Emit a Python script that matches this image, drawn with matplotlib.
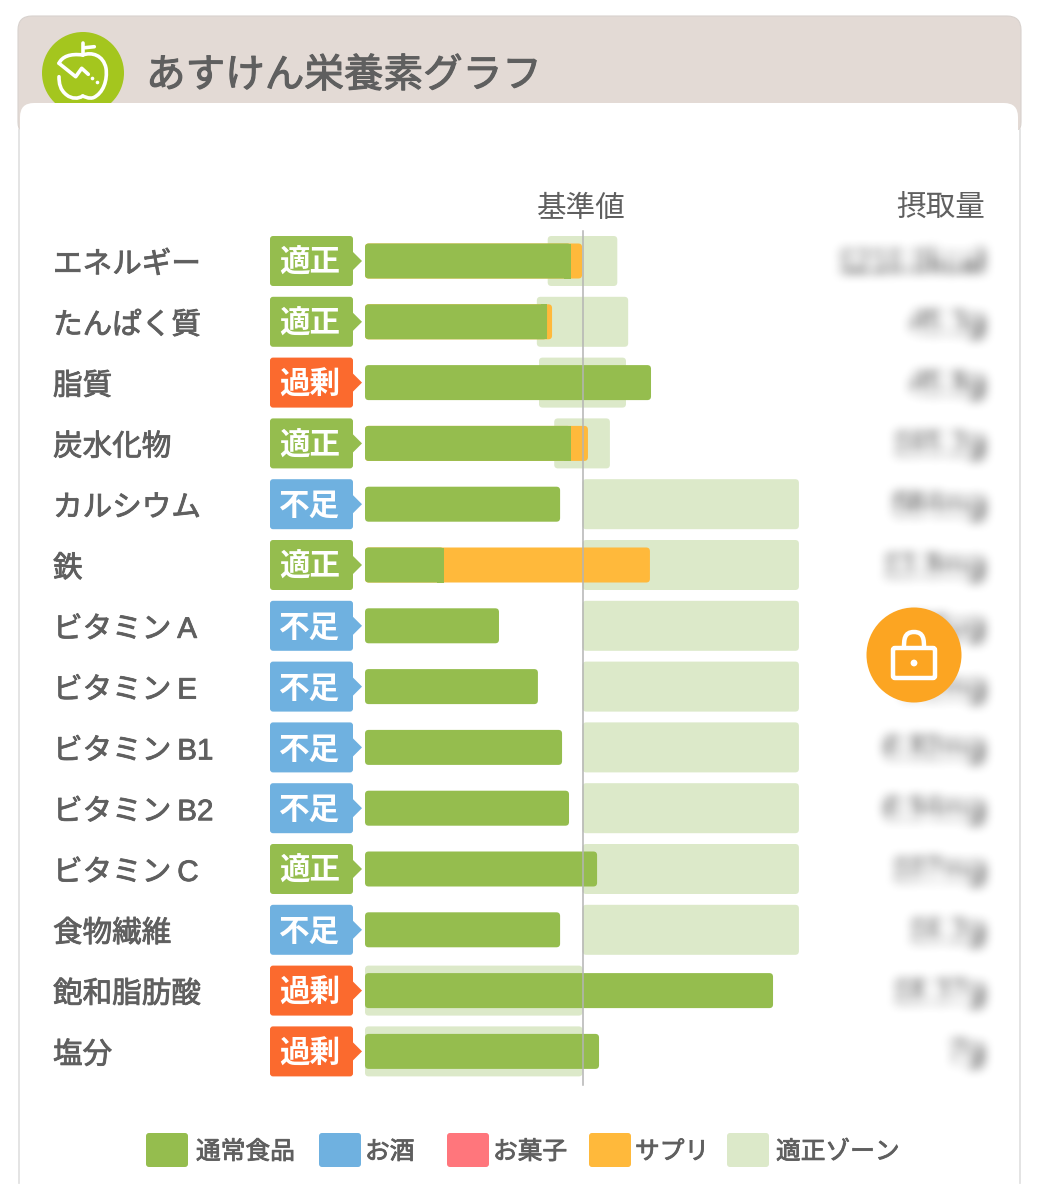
"""
あすけん栄養素グラフ: nutrient intake bars against the reference value.
Bars are in percent of the reference value (100 = 基準値).
"""

import numpy as np
import matplotlib
matplotlib.use('Agg')
import matplotlib.pyplot as plt
import matplotlib.patheffects as pe
from matplotlib.patches import Circle, FancyBboxPatch, Polygon, Rectangle, PathPatch
from matplotlib.path import Path
from matplotlib.transforms import ScaledTranslation

# Latin letters look Helvetica-like in the source, the kana and kanji come from Noto
plt.rcParams['font.family'] = ['Liberation Sans', 'Noto Sans CJK JP', 'DejaVu Sans']

nutrients = ['エネルギー', 'たんぱく質', '脂質', '炭水化物', 'カルシウム', '鉄', 'ビタミン\u2009A',
             'ビタミン\u2009E', 'ビタミン\u2009B1', 'ビタミン\u2009B2', 'ビタミン\u2009C',
             '食物繊維', '飽和脂肪酸', '塩分']
status = ['適正', '適正', '過剰', '適正', '不足', '適正', '不足',
          '不足', '不足', '不足', '適正', '不足', '過剰', '過剰']
food = [94.7, 83.7, 131.5, 94.7, 89.7, 36.3, 61.6, 79.5, 90.6, 93.8, 106.7, 89.7, 187.6, 107.6]
supplement = [5.1, 2.3, 0, 7.8, 0, 94.7, 0, 0, 0, 0, 0, 0, 0, 0]
zone_low = [84, 79, 80, 87, 100, 100, 100, 100, 100, 100, 100, 100, 0, 0]
zone_high = [116, 121, 120, 112.6, 199.5, 199.5, 199.5, 199.5, 199.5, 199.5, 199.5, 199.5, 100, 100]
# the amounts are blurred in the source, these are best guesses
amounts = ['1210.0kcal', '45.3g', '45.8g', '165.2g', '584mg', '13.8mg', '496μg',
           '5.2mg', '0.82mg', '0.94mg', '107mg', '16.2g', '18.37g', '7g']
legend_labels = ['通常食品', 'お酒', 'お菓子', 'サプリ', '適正ゾーン']
legend_colors = ['#95bd4e', '#6fb1e0', '#ff767c', '#ffb93b', '#dce9c9']
legend_x = [146, 319, 447, 589, 727]
legend_text_x = [196, 365, 493, 635, 776]

GREEN, ORANGE, ZONE = '#95bd4e', '#ffb93b', '#dce9c9'
TEXT = '#5f5f5f'
BADGE = {'適正': '#95bd4e', '不足': '#6fb1e0', '過剰': '#fb6a2e'}

W, H = 1039, 1200
ROW0, ROW_STEP = 261, 60.8
X0, PX_PER_PCT = 365, 2.175


def blur(image, dpi, radius=5, pad=24):
    # repeated box blur, close enough to a gaussian
    img = np.pad(image, ((pad, pad), (pad, pad), (0, 0)))
    kernel = np.ones(2 * radius + 1) / (2 * radius + 1)
    for _ in range(3):
        for axis in (0, 1):
            img = np.apply_along_axis(lambda v: np.convolve(v, kernel, mode='same'), axis, img)
    return img, -pad, -pad


def thicker(width=0.6, color=TEXT):
    # the source font is a medium weight, Noto here only has regular and bold
    return [pe.withStroke(linewidth=width, foreground=color)]


fig = plt.figure(figsize=(W / 100, H / 100), dpi=100, facecolor='white')

# background layer in pixel coordinates
bg = fig.add_axes([0, 0, 1, 1], zorder=1)
bg.set_xlim(0, W)
bg.set_ylim(H, 0)
bg.axis('off')

bg.add_patch(FancyBboxPatch((18, 16), 1003, 120, boxstyle='round,pad=0,rounding_size=14',
                            fc='#e3dad5', ec='#d8d2ce', lw=0.8, zorder=1))
bg.add_patch(Circle((83, 73), 41, fc='#a4c61e', ec='none', zorder=2))

# apple icon
apple_right = Path([(82.7, 55), (91.7, 51.7), (103.3, 55), (106, 68.3), (107.7, 80), (103.3, 93.3),
                    (93.3, 97.7), (88.3, 99), (85, 96.7), (82.7, 96)],
                   [Path.MOVETO] + [Path.CURVE4] * 9)
apple_left = Path([(82.7, 96), (78.3, 99), (71.7, 99), (66.7, 95), (60, 90), (59, 83.3), (59, 76.7)],
                  [Path.MOVETO] + [Path.CURVE4] * 6)
apple_top = Path([(59, 63.3), (62, 56.7), (70, 53.3), (82.7, 55)], [Path.MOVETO] + [Path.CURVE4] * 3)
for part in (apple_right, apple_left, apple_top):
    bg.add_patch(PathPatch(part, fc='none', ec='white', lw=2.6, capstyle='round', zorder=3))
bg.plot([82.7, 82.7], [43.3, 55], color='white', lw=2.6, solid_capstyle='round', zorder=3)
bg.plot([85, 94.3], [47.7, 46.7], color='white', lw=2.6, solid_capstyle='round', zorder=3)
bg.plot([59, 75.7, 81.7, 88.3], [63.3, 76.7, 68.3, 74.3], color='white', lw=2.6,
        solid_capstyle='round', solid_joinstyle='round', zorder=4)
bg.plot([92.3, 97], [78.3, 82.3], ls='none', marker='o', ms=2.6, mew=0, color='white', zorder=4)

title = bg.text(146, 76, 'あすけん栄養素グラフ', fontsize=28.5, color=TEXT,
                ha='left', va='center', zorder=4)
title.set_path_effects(thicker(0.8))

# white card
bg.add_patch(FancyBboxPatch((20, 103), 998, 200, boxstyle='round,pad=0,rounding_size=14',
                            fc='white', ec='none', zorder=5))
bg.add_patch(Rectangle((18, 130), 1003, 1060, fc='white', ec='none', zorder=5))
for x in (19, 1020):
    bg.plot([x, x], [130, 1183], color='#e2e2e2', lw=1.3, zorder=5)

bg.text(581, 209, '基準値', fontsize=21.3, color=TEXT, ha='center', va='center', zorder=7)
bg.text(985, 209, '摂取量', fontsize=21.3, color=TEXT, ha='right', va='center', zorder=7)

# status badges and blurred amounts
for i, (st, amount) in enumerate(zip(status, amounts)):
    y = ROW0 + i * ROW_STEP
    color = BADGE[st]
    bg.add_patch(FancyBboxPatch((270, y - 25), 83, 50, boxstyle='round,pad=0,rounding_size=3',
                                fc=color, ec='none', zorder=7))
    bg.add_patch(Polygon([(352, y - 10), (362, y), (352, y + 10)], fc=color, ec='none', zorder=7))
    bg.text(309.5, y + 3, st, fontsize=22, fontweight='bold', color='white',
            ha='center', va='center', zorder=8)
    t = bg.text(985, y + 2, amount, fontsize=21, fontweight='bold', color='#444444',
                ha='right', va='center', zorder=8)
    t.set_agg_filter(blur)

# legend
for x, tx, label, color in zip(legend_x, legend_text_x, legend_labels, legend_colors):
    bg.add_patch(FancyBboxPatch((x, 1133), 42, 34, boxstyle='round,pad=0,rounding_size=3',
                                fc=color, ec='none', zorder=7))
    t = bg.text(tx, 1152, label, fontsize=17.8, color=TEXT, ha='left', va='center', zorder=8)
    t.set_path_effects(thicker(0.6))

# lock button, above the blurred amounts
bg.add_patch(Circle((914, 655), 47.5, fc='#fca522', ec='none', zorder=10))
bg.add_patch(FancyBboxPatch((893, 648), 42, 30, boxstyle='round,pad=0,rounding_size=2',
                            fc='none', ec='white', lw=3.2, zorder=11))
shackle = Path([(904, 648), (904, 640), (904, 632), (914, 632), (924, 632), (924, 640), (924, 648)],
               [Path.MOVETO] + [Path.CURVE4] * 6)
bg.add_patch(PathPatch(shackle, fc='none', ec='white', lw=3.2, zorder=11))
bg.add_patch(Circle((914, 663), 3.4, fc='white', ec='none', zorder=11))

# chart axes: x in percent of the reference value, y is the row number
ax = fig.add_axes([X0 / W, 1 - (ROW0 + 13.5 * ROW_STEP) / H,
                   200 * PX_PER_PCT / W, 14 * ROW_STEP / H], zorder=2)
ax.patch.set_alpha(0)
ax.set_xlim(0, 200)
ax.set_ylim(13.5, -0.5)
for side in ax.spines.values():
    side.set_visible(False)
ax.set_xticks([])
ax.set_yticks(range(len(nutrients)))
ax.set_yticklabels(nutrients, fontsize=21.3, color=TEXT, ha='left')
ax.tick_params(axis='y', length=0, pad=(X0 - 53) * 0.72)
nudge = ScaledTranslation(0, -1 / 100, fig.dpi_scale_trans)
for label in ax.get_yticklabels():
    label.set_path_effects(thicker(0.6))
    label.set_transform(label.get_transform() + nudge)

ASPECT = PX_PER_PCT / ROW_STEP


def rbar(x0, x1, row, height_px, color, z):
    h = height_px / ROW_STEP
    box = FancyBboxPatch((x0, row - h / 2), x1 - x0, h,
                         boxstyle='round,pad=0,rounding_size=1.7',
                         mutation_aspect=ASPECT, fc=color, ec='none', zorder=z)
    ax.add_patch(box)


for i in range(len(nutrients)):
    rbar(zone_low[i], zone_high[i], i, 50, ZONE, 2)
    total = food[i] + supplement[i]
    if supplement[i] > 0:
        rbar(0, total, i, 35, ORANGE, 3)
        rbar(0, food[i], i, 35, GREEN, 4)
        ax.barh(i, 3, left=food[i] - 3, height=35 / ROW_STEP, color=GREEN, zorder=4)
    else:
        rbar(0, food[i], i, 35, GREEN, 4)

ax.axvline(100, color='#b4b4b4', lw=1.1, zorder=5, ymin=-0.004, ymax=1, clip_on=False)

fig.savefig('out.png', dpi=100, facecolor='white')
